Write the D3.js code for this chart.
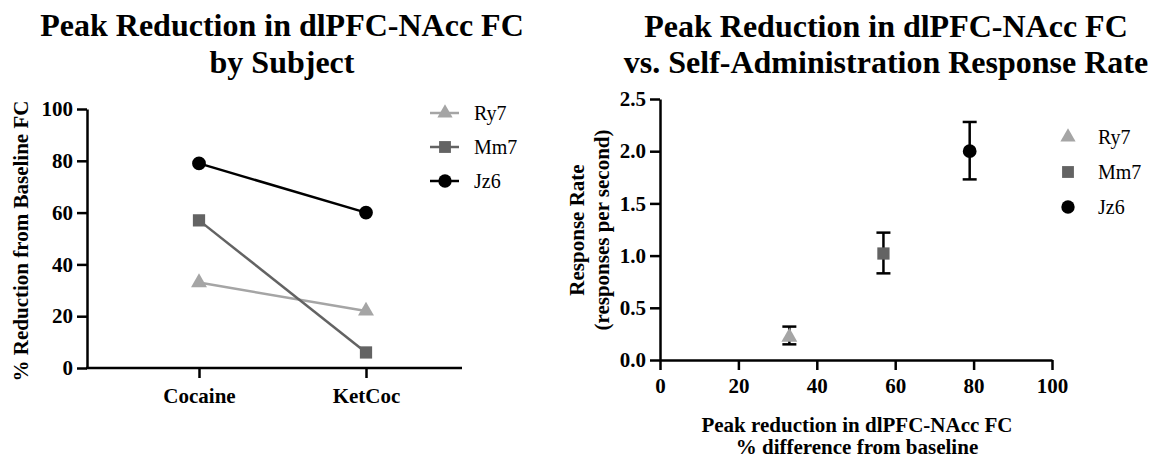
<!DOCTYPE html>
<html>
<head>
<meta charset="utf-8">
<script src="https://cdn.jsdelivr.net/npm/d3@7"></script>
<style>
  body { margin: 0; background: #fff; }
  svg text { font-family: "Liberation Serif", "Times New Roman", serif; fill: #000; }
  .axis path, .axis line { stroke: #000; stroke-width: 2.5px; }
  .axis text { font-size: 21px; font-weight: bold; }
  .title { font-size: 32px; font-weight: bold; }
  .label { font-size: 21px; font-weight: bold; }
  .legend { font-size: 20px; }
</style>
</head>
<body>
<div id="chart"></div>
<script>
var subjects = ["Ry7", "Mm7", "Jz6"];
var colors = ["#a5a5a5", "#636363", "#000000"];
var symbols = [d3.symbolTriangle, d3.symbolSquare, d3.symbolCircle];
var conditions = ["Cocaine", "KetCoc"];
var reduction = [[33, 22], [57, 6], [79, 60]];
var peakReduction = [33, 57, 79];
var responseRate = [0.22, 1.02, 2.0];
var rateLow = [0.15, 0.83, 1.73];
var rateHigh = [0.32, 1.22, 2.28];
var leftTicks = [0, 20, 40, 60, 80, 100];
var rightYTicks = [0, 0.5, 1.0, 1.5, 2.0, 2.5];
var rightXTicks = [0, 20, 40, 60, 80, 100];

var symSize = [110, 150, 150];

var svg = d3.select("#chart").append("svg")
    .attr("width", 1155)
    .attr("height", 458);

// ---------- left chart ----------
var left = svg.append("g");

var xL = d3.scalePoint().domain(conditions).range([199, 366]);
var yL = d3.scaleLinear().domain([0, 100]).range([368, 109]);

left.append("g").attr("class", "axis")
    .attr("transform", "translate(87,0)")
    .call(d3.axisLeft(yL).tickValues(leftTicks).tickSize(10).tickSizeOuter(0).tickPadding(4));

var xAxisL = left.append("g").attr("class", "axis")
    .attr("transform", "translate(0,368)")
    .call(d3.axisBottom(xL).tickSize(10).tickSizeOuter(0).tickPadding(10));
xAxisL.select(".domain").attr("d", "M86,0H462");

var line = d3.line()
    .x(function (d, i) { return xL(conditions[i]); })
    .y(function (d) { return yL(d); });

subjects.forEach(function (s, k) {
    left.append("path")
        .attr("d", line(reduction[k]))
        .attr("fill", "none")
        .attr("stroke", colors[k])
        .attr("stroke-width", 2.5);
    left.selectAll(".m" + k)
        .data(reduction[k])
        .enter()
        .append("path")
        .attr("transform", function (d, i) { return "translate(" + xL(conditions[i]) + "," + yL(d) + ")"; })
        .attr("d", d3.symbol().type(symbols[k]).size(symSize[k]))
        .attr("fill", colors[k]);
});

left.append("text").attr("class", "label")
    .attr("transform", "translate(28,241) rotate(-90)")
    .attr("text-anchor", "middle")
    .text("% Reduction from Baseline FC");

left.append("text").attr("class", "title")
    .attr("x", 282).attr("y", 36)
    .attr("text-anchor", "middle")
    .text("Peak Reduction in dlPFC-NAcc FC");
left.append("text").attr("class", "title")
    .attr("x", 282).attr("y", 73)
    .attr("text-anchor", "middle")
    .text("by Subject");

// left legend
subjects.forEach(function (s, k) {
    var ly = 113 + k * 34;
    left.append("line")
        .attr("x1", 430).attr("x2", 459).attr("y1", ly).attr("y2", ly)
        .attr("stroke", colors[k]).attr("stroke-width", 2.5);
    left.append("path")
        .attr("transform", "translate(445," + ly + ")")
        .attr("d", d3.symbol().type(symbols[k]).size(symSize[k] - 10))
        .attr("fill", colors[k]);
    left.append("text").attr("class", "legend")
        .attr("x", 474).attr("y", ly + 7)
        .text(s);
});

// ---------- right chart ----------
var right = svg.append("g");

var xR = d3.scaleLinear().domain([0, 100]).range([660, 1052]);
var yR = d3.scaleLinear().domain([0, 2.5]).range([360, 99]);

right.append("g").attr("class", "axis")
    .attr("transform", "translate(660,0)")
    .call(d3.axisLeft(yR).tickValues(rightYTicks).tickFormat(d3.format(".1f")).tickSize(10).tickSizeOuter(0).tickPadding(4));

right.append("g").attr("class", "axis")
    .attr("transform", "translate(0,360)")
    .call(d3.axisBottom(xR).tickValues(rightXTicks).tickSize(10).tickSizeOuter(0).tickPadding(8));

subjects.forEach(function (s, k) {
    var cx = xR(peakReduction[k]);
    var g = right.append("g").attr("stroke", "#000").attr("stroke-width", 2.5);
    g.append("line").attr("x1", cx).attr("x2", cx).attr("y1", yR(rateLow[k])).attr("y2", yR(rateHigh[k]));
    g.append("line").attr("x1", cx - 7).attr("x2", cx + 7).attr("y1", yR(rateLow[k])).attr("y2", yR(rateLow[k]));
    g.append("line").attr("x1", cx - 7).attr("x2", cx + 7).attr("y1", yR(rateHigh[k])).attr("y2", yR(rateHigh[k]));
    right.append("path")
        .attr("transform", "translate(" + cx + "," + yR(responseRate[k]) + ")")
        .attr("d", d3.symbol().type(symbols[k]).size(symSize[k]))
        .attr("fill", colors[k]);
});

right.append("text").attr("class", "label")
    .attr("transform", "translate(584,230) rotate(-90)")
    .attr("text-anchor", "middle")
    .text("Response Rate");
right.append("text").attr("class", "label")
    .attr("transform", "translate(609,230) rotate(-90)")
    .attr("text-anchor", "middle")
    .text("(responses per second)");

right.append("text").attr("class", "label")
    .attr("x", 857).attr("y", 432)
    .attr("text-anchor", "middle")
    .text("Peak reduction in dlPFC-NAcc FC");
right.append("text").attr("class", "label")
    .attr("x", 857).attr("y", 454)
    .attr("text-anchor", "middle")
    .text("% difference from baseline");

right.append("text").attr("class", "title")
    .attr("x", 886).attr("y", 37)
    .attr("text-anchor", "middle")
    .text("Peak Reduction in dlPFC-NAcc FC");
right.append("text").attr("class", "title")
    .attr("x", 886).attr("y", 73)
    .attr("text-anchor", "middle")
    .text("vs. Self-Administration Response Rate");

// right legend
subjects.forEach(function (s, k) {
    var ly = 137 + k * 35;
    right.append("path")
        .attr("transform", "translate(1068," + ly + ")")
        .attr("d", d3.symbol().type(symbols[k]).size(symSize[k] - 10))
        .attr("fill", colors[k]);
    right.append("text").attr("class", "legend")
        .attr("x", 1098).attr("y", ly + 7)
        .text(s);
});
</script>
</body>
</html>
